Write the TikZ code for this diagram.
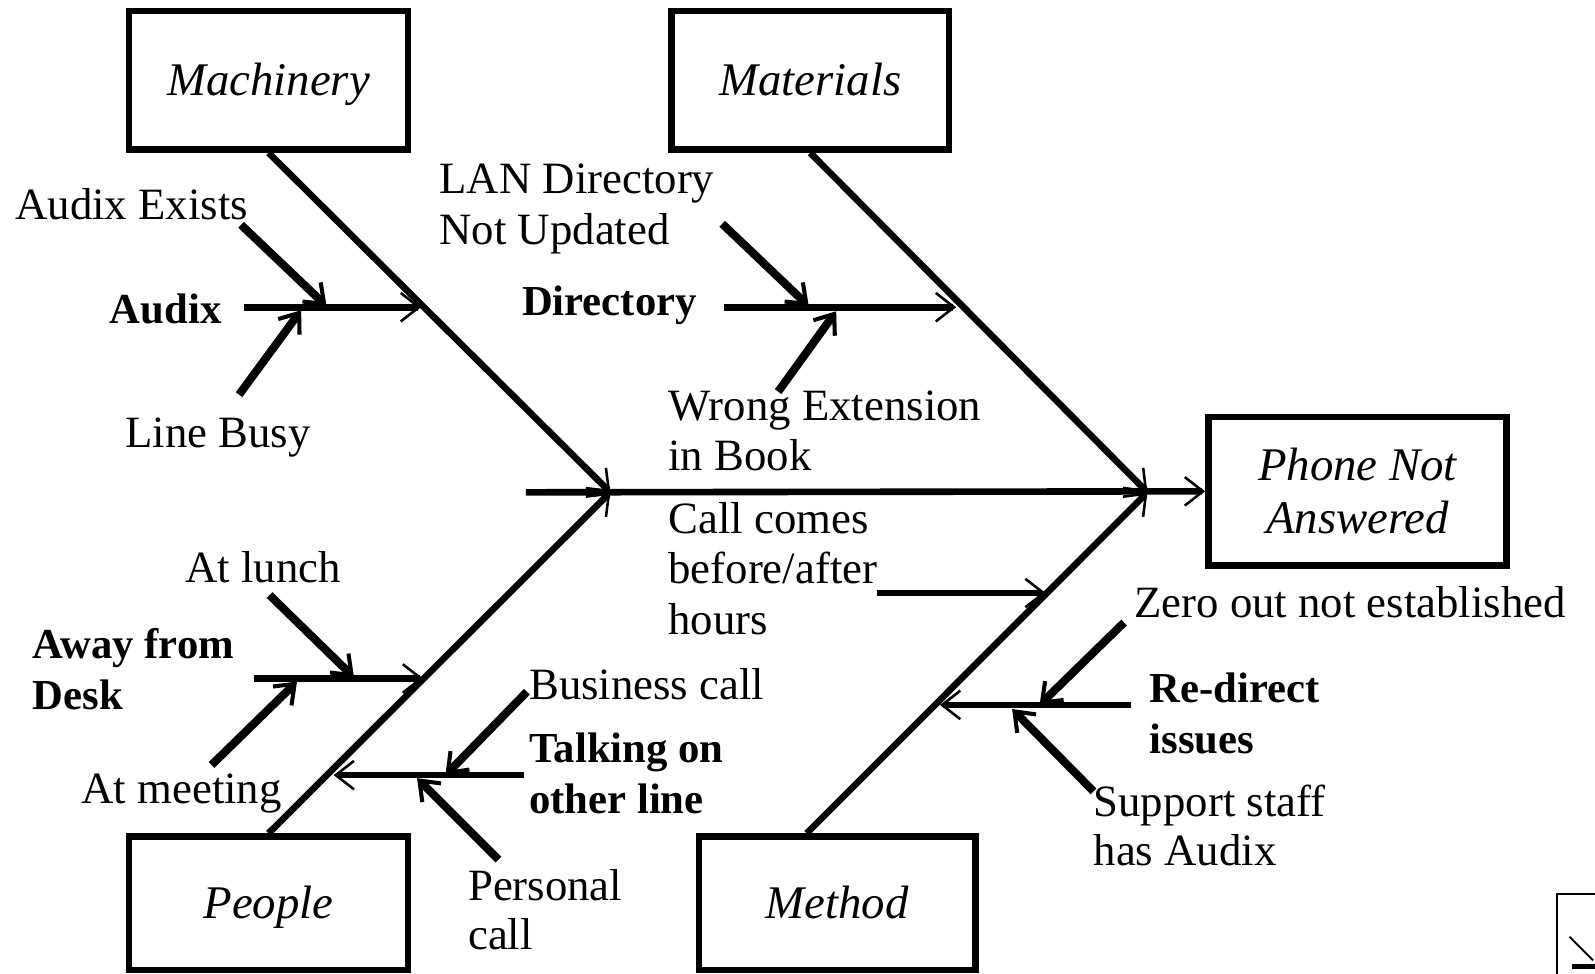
\documentclass[tikz,border=0pt]{standalone}
\usepackage{fontspec}
\setmainfont{Liberation Serif}
\usetikzlibrary{arrows.meta}
\begin{document}
\begin{tikzpicture}[x=1pt,y=-1pt,
  tip/.style={-{Straight Barb[length=18pt,width=28pt,line width=2.5pt]}},
  heavytip/.style={-{Straight Barb[length=17pt,width=26pt,line width=4pt]}},
  box/.style={draw, line width=6.5pt, inner sep=0pt, align=center,
    font=\fontsize{46}{52}\selectfont\itshape},
  onebox/.style={box, text height=30pt, text depth=0pt},
  spine/.style={tip, line width=6.5pt},
  bone/.style={tip, line width=6.5pt},
  branch/.style={tip, line width=6.5pt},
  cause/.style={heavytip, line width=8pt},
  lbl/.style={inner sep=0pt, font=\fontsize{44}{50}\selectfont},
  blbl/.style={inner sep=0pt, font=\fontsize{42}{50}\selectfont\bfseries},
]
\useasboundingbox[fill=white] (0,0) rectangle (1568,957);

% category boxes and the effect box
\node[onebox, minimum width=274pt, minimum height=136pt] (mach) at (264,79) {Machinery};
\node[onebox, minimum width=273pt, minimum height=136pt] (mat) at (796.5,79) {Materials};
\node[box, minimum width=293pt, minimum height=146pt] (phone) at (1334.5,483) {Phone Not\\Answered};
\node[onebox, minimum width=274pt, minimum height=131pt] (peo) at (264,888) {People};
\node[onebox, minimum width=272pt, minimum height=131pt] (meth) at (823,888) {Method};

% spine and main bones
\coordinate (s0) at (517,484);
\coordinate (jL) at (600,484);
\coordinate (jR) at (1128,484);
\draw[spine] (s0) -- (phone.west);
\draw[bone] (mach.south) -- (jL);
\draw[bone] (mat.south) -- (jR);
\draw[bone] (peo.north) -- (jL);
\draw[bone] ([xshift=-30pt]meth.north) -- (jR);

% Machinery: Audix
\coordinate (audA) at (240,302);
\coordinate (audB) at (414,302);
\coordinate (audExA) at (237,221);
\coordinate (audExB) at (321,301);
\coordinate (busyA) at (235,388);
\coordinate (busyB) at (296,305);
\draw[branch] (audA) -- (audB);
\draw[cause] (audExA) -- (audExB);
\draw[cause] (busyA) -- (busyB);
\node[lbl, anchor=base west] (tAudEx) at (15,216) {Audix Exists};
\node[blbl, anchor=base east] (tAud) at (218,318) {Audix};
\node[lbl, anchor=base west] (tBusy) at (123,440) {Line Busy};

% Materials: Directory
\coordinate (dirA) at (712,302);
\coordinate (dirB) at (940,302);
\coordinate (lanA) at (710,220);
\coordinate (lanB) at (795,301);
\coordinate (wrongA) at (765,385);
\coordinate (wrongB) at (822,306);
\draw[branch] (dirA) -- (dirB);
\draw[cause] (lanA) -- (lanB);
\draw[cause] (wrongA) -- (wrongB);
\node[lbl, anchor=base west] (tLan1) at (432,190) {LAN Directory};
\node[lbl, anchor=base west] (tLan2) at (432,240) {Not Updated};
\node[blbl, anchor=base west] (tDir) at (513,310) {Directory};
\node[lbl, anchor=base west] (tWrong1) at (657,413) {Wrong Extension};
\node[lbl, anchor=base west] (tWrong2) at (657,463) {in Book};

% Method: after hours
\coordinate (hrsA) at (862,583);
\coordinate (hrsB) at (1028,583);
\draw[branch] (hrsA) -- (hrsB);
\node[lbl, anchor=base west] (tCall1) at (657,524) {Call comes};
\node[lbl, anchor=base west] (tCall2) at (657,574) {before/after};
\node[lbl, anchor=base west] (tCall3) at (657,624) {hours};

% People: Away from Desk
\coordinate (awayA) at (250,667);
\coordinate (awayB) at (416,667);
\coordinate (lunchA) at (265,585);
\coordinate (lunchB) at (348,666);
\coordinate (meetA) at (208,752);
\coordinate (meetB) at (292,670);
\draw[branch] (awayA) -- (awayB);
\draw[cause] (lunchA) -- (lunchB);
\draw[cause] (meetA) -- (meetB);
\node[lbl, anchor=base west] (tLunch) at (182,573) {At lunch};
\node[blbl, anchor=base west] (tAway1) at (32,647) {Away from};
\node[blbl, anchor=base west] (tAway2) at (32,697) {Desk};
\node[lbl, anchor=base west] (tMeet) at (80,790) {At meeting};

% People: Talking on other line
\coordinate (talkA) at (515,762);
\coordinate (talkB) at (328,762);
\coordinate (busA) at (518,680);
\coordinate (busB) at (438,762);
\coordinate (persA) at (490,845);
\coordinate (persB) at (410,765);
\draw[branch] (talkA) -- (talkB);
\draw[cause] (busA) -- (busB);
\draw[cause] (persA) -- (persB);
\node[lbl, anchor=base west] (tBus) at (520,688) {Business call};
\node[blbl, anchor=base west] (tTalk1) at (520,750) {Talking on};
\node[blbl, anchor=base west] (tTalk2) at (520,800) {other line};
\node[lbl, anchor=base west] (tPers1) at (460,885) {Personal};
\node[lbl, anchor=base west] (tPers2) at (460,933) {call};

% Method: Re-direct issues
\coordinate (redA) at (1112,693);
\coordinate (redB) at (924,693);
\coordinate (zeroA) at (1105,612);
\coordinate (zeroB) at (1022,693);
\coordinate (suppA) at (1075,778);
\coordinate (suppB) at (995,697);
\draw[branch] (redA) -- (redB);
\draw[cause] (zeroA) -- (zeroB);
\draw[cause] (suppA) -- (suppB);
\node[lbl, anchor=base west] (tZero) at (1115,607) {Zero out not established};
\node[blbl, anchor=base west] (tRed1) at (1130,691) {Re-direct};
\node[blbl, anchor=base west] (tRed2) at (1130,741) {issues};
\node[lbl, anchor=base west] (tSupp1) at (1075,803) {Support staff};
\node[lbl, anchor=base west] (tSupp2) at (1075,851) {has Audix};

% small framed glyph in the lower right corner
\draw[line width=2pt] (1580,879) -- (1531,879) -- (1531,970);
\draw[line width=2pt] (1543,921) -- (1566,944);
\draw[line width=5pt] (1545,950) -- (1572,950);
\end{tikzpicture}
\end{document}
